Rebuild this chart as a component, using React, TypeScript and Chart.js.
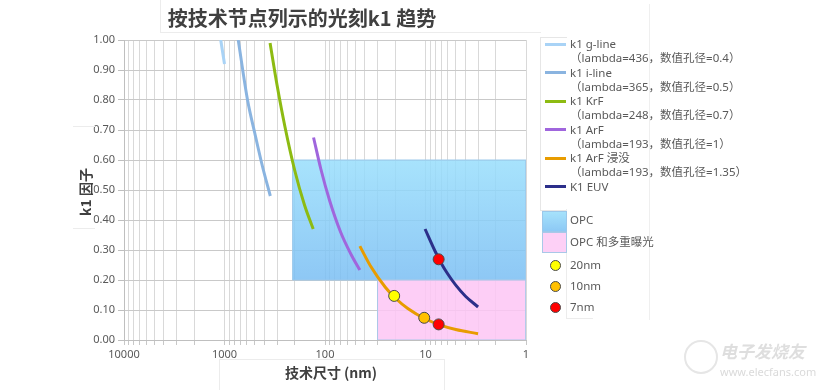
import React, { useEffect, useRef } from "react";
import { Chart, registerables } from "chart.js";
Chart.register(...registerables);

// ---- data (feature size in nm, k1 factor) ----
const gLineX = [1090, 1000];
const gLineK1 = [1.0, 0.92];
const iLineX = [730, 590, 500, 420, 350];
const iLineK1 = [1.0, 0.8, 0.69, 0.58, 0.48];
const krfX = [352, 300, 250, 200, 160, 131];
const krfK1 = [0.99, 0.85, 0.71, 0.565, 0.45, 0.37];
const arfX = [130, 110, 90, 70, 55, 45];
const arfK1 = [0.675, 0.57, 0.465, 0.36, 0.285, 0.233];
const arfImmX = [45, 35, 25, 20, 15, 10, 7, 5, 3];
const arfImmK1 = [0.313, 0.245, 0.175, 0.14, 0.105, 0.07, 0.049, 0.035, 0.021];
const euvX = [10.1, 8, 7, 6, 5, 4, 3];
const euvK1 = [0.37, 0.295, 0.257, 0.22, 0.183, 0.146, 0.11];

const opcX = [210, 1];
const opcK1 = [0.2, 0.6];
const opcMultiX = [30, 1];
const opcMultiK1 = [0, 0.2];

const node20X = [20.5];
const node20K1 = [0.147];
const node10X = [10.3];
const node10K1 = [0.074];
const node7X = [7.4, 7.4];
const node7K1 = [0.052, 0.269];

const xTickLabels = [10000, 1000, 100, 10, 1];

const seriesNames = [
  ["k1 g-line", "（lambda=436，数值孔径=0.4）"],
  ["k1 i-line", "（lambda=365，数值孔径=0.5）"],
  ["k1 KrF", "（lambda=248，数值孔径=0.7）"],
  ["k1 ArF", "（lambda=193，数值孔径=1）"],
  ["k1 ArF 浸没", "（lambda=193，数值孔径=1.35）"],
  ["K1 EUV"],
];
const seriesColors = ["#a9d3f6", "#8ab4e0", "#8dbb12", "#a066dd", "#e89c00", "#2c2f8a"];
const regionNames = ["OPC", "OPC 和多重曝光"];
const nodeNames = ["20nm", "10nm", "7nm"];
const nodeColors = ["#ffff00", "#ffc000", "#ff0000"];

const FONT = "'Noto Sans', 'Noto Sans CJK SC', sans-serif";
const CJK = "'Noto Sans CJK SC', 'Noto Sans', sans-serif";

const pts = (xs: number[], ys: number[]) => xs.map((x, i) => ({ x, y: ys[i] }));
const rect = (xs: number[], ys: number[]) => [
  { x: xs[0], y: ys[0] },
  { x: xs[0], y: ys[1] },
  { x: xs[1], y: ys[1] },
  { x: xs[1], y: ys[0] },
  { x: xs[0], y: ys[0] },
];

function buildTicks() {
  const t: number[] = [];
  for (let e = 0; e < 4; e++) for (let s = 1; s < 10; s++) t.push(s * Math.pow(10, e));
  t.push(10000);
  return t;
}

export default function App() {
  const ref = useRef<HTMLCanvasElement>(null);
  useEffect(() => {
    if (!ref.current) return;
    const curve = (data: any, color: string) => ({
      data,
      borderColor: color,
      backgroundColor: color,
      borderWidth: 3,
      pointRadius: 0,
      cubicInterpolationMode: "monotone",
      fill: false,
      order: 2,
    });
    const marker = (data: any, color: string) => ({
      data,
      showLine: false,
      pointRadius: 5.5,
      pointBackgroundColor: color,
      pointBorderColor: "#4a4a4a",
      pointBorderWidth: 1,
      borderColor: color,
      backgroundColor: color,
      order: 1,
    });
    const chart = new Chart(ref.current, {
      type: "line",
      data: {
        datasets: [
          {
            data: rect(opcX, opcK1),
            borderColor: "#9cc8ea",
            borderWidth: 1,
            pointRadius: 0,
            tension: 0,
            fill: "shape",
            order: 5,
            backgroundColor: (ctx: any) => {
              const c = ctx.chart;
              if (!c.chartArea) return "rgba(140,210,250,0.85)";
              const ys = c.scales.y;
              const g = c.ctx.createLinearGradient(0, ys.getPixelForValue(0.6), 0, ys.getPixelForValue(0.2));
              g.addColorStop(0, "rgba(152,222,252,0.85)");
              g.addColorStop(1, "rgba(122,190,243,0.85)");
              return g;
            },
          } as any,
          {
            data: rect(opcMultiX, opcMultiK1),
            borderColor: "#a9c8e8",
            borderWidth: 1,
            pointRadius: 0,
            tension: 0,
            fill: "shape",
            order: 4,
            backgroundColor: "rgba(253,198,245,0.85)",
          } as any,
          curve(pts(gLineX, gLineK1), seriesColors[0]),
          curve(pts(iLineX, iLineK1), seriesColors[1]),
          curve(pts(krfX, krfK1), seriesColors[2]),
          curve(pts(arfX, arfK1), seriesColors[3]),
          curve(pts(arfImmX, arfImmK1), seriesColors[4]),
          curve(pts(euvX, euvK1), seriesColors[5]),
          marker(pts(node20X, node20K1), nodeColors[0]),
          marker(pts(node10X, node10K1), nodeColors[1]),
          marker(pts(node7X, node7K1), nodeColors[2]),
        ] as any,
      },
      options: {
        animation: false,
        responsive: false,
        events: [],
        layout: { padding: { left: 0, top: 40, right: 304, bottom: 0 } },
        plugins: { legend: { display: false }, tooltip: { enabled: false }, title: { display: false } },
        scales: {
          x: {
            type: "logarithmic",
            reverse: true,
            min: 1,
            max: 10000,
            afterBuildTicks: (s: any) => {
              s.ticks = buildTicks().map((v) => ({ value: v }));
            },
            afterFit: (s: any) => {
              s.height = 50;
              s.paddingLeft = 0;
              s.paddingRight = 0;
            },
            grid: { color: "#d9d9d9", tickLength: 5, tickColor: "#c8c8c8" },
            border: { color: "#bfbfbf" },
            ticks: {
              autoSkip: false,
              maxRotation: 0,
              padding: 3,
              color: "#595959",
              font: { family: FONT, size: 11 },
              callback: (v: any) => (xTickLabels.includes(Number(v)) ? String(v) : ""),
            },
          },
          y: {
            min: 0,
            max: 1,
            afterFit: (s: any) => {
              s.width = 124;
              s.paddingTop = 0;
              s.paddingBottom = 0;
            },
            grid: { color: "#c9c9c9", tickLength: 6, tickColor: "#bfbfbf" },
            border: { color: "#bfbfbf" },
            ticks: {
              stepSize: 0.1,
              padding: 3,
              color: "#595959",
              font: { family: FONT, size: 11 },
              callback: (v: any) => Number(v).toFixed(2),
            },
          },
        },
      } as any,
    });
    return () => chart.destroy();
  }, []);

  const lineTop = (i: number) => 44 + i * 14.25 - 7;
  let row = 0;
  const legendRows: any[] = [];
  seriesNames.forEach((lines, si) => {
    lines.forEach((t, li) => {
      const top = lineTop(row);
      if (li === 0) {
        legendRows.push(
          <div key={"sw" + si} style={{ position: "absolute", left: 545, top: top + 5.5, width: 21, height: 3, background: seriesColors[si] }} />
        );
      }
      legendRows.push(
        <div key={"t" + si + "-" + li} style={{ position: "absolute", left: 570, top, height: 14, lineHeight: "14px", whiteSpace: "nowrap", fontSize: 11.5, color: "#595959", fontFamily: FONT }}>
          {t}
        </div>
      );
      row++;
    });
  });

  const txt = (s: any): any => ({ position: "absolute", whiteSpace: "nowrap", color: "#595959", fontFamily: FONT, fontSize: 11.5, lineHeight: "14px", ...s });

  return (
    <div style={{ position: "fixed", left: 0, top: 0, width: 830, height: 390, background: "#fff", overflow: "hidden" }}>
      <canvas ref={ref} width={830} height={390} style={{ position: "absolute", left: 0, top: 0, width: 830, height: 390 }} />
      {/* title */}
      <div style={{ position: "absolute", left: 160, top: 0, width: 380, height: 32, borderLeft: "1px solid #ececec", borderBottom: "1px solid #ececec" }} />
      <div style={{ position: "absolute", left: 302, top: 7, transform: "translateX(-50%)", whiteSpace: "nowrap", fontFamily: CJK, fontWeight: 700, fontSize: 20, lineHeight: "21px", color: "#404040" }}>
        按技术节点列示的光刻k1 趋势
      </div>
      {/* y title */}
      <div style={{ position: "absolute", left: 73, top: 126, width: 22, height: 101, borderTop: "1px solid #ececec", borderBottom: "1px solid #ececec" }} />
      <div style={{ position: "absolute", left: 85, top: 192, transform: "translate(-50%,-50%) rotate(-90deg)", whiteSpace: "nowrap", fontFamily: CJK, fontWeight: 700, fontSize: 14, lineHeight: "16px", color: "#404040" }}>
        k1 因子
      </div>
      {/* x title */}
      <div style={{ position: "absolute", left: 219, top: 359, width: 224, height: 40, borderLeft: "1px solid #ececec", borderTop: "1px solid #ececec", borderRight: "1px solid #ececec" }} />
      <div style={{ position: "absolute", left: 331, top: 371.5, transform: "translate(-50%,-50%)", whiteSpace: "nowrap", fontFamily: CJK, fontWeight: 700, fontSize: 14, lineHeight: "16px", color: "#404040" }}>
        技术尺寸 (nm)
      </div>
      {/* legend frames */}
      <div style={{ position: "absolute", left: 540, top: 37, width: 26, height: 172, border: "1px solid #e6e6e6", borderRight: "none" }} />
      <div style={{ position: "absolute", left: 566, top: 209, width: 26, height: 109, borderLeft: "1px solid #ececec", borderBottom: "1px solid #ececec" }} />
      <div style={{ position: "absolute", left: 649, top: 4, width: 1, height: 316, background: "#efefef" }} />
      {legendRows}
      <div style={{ position: "absolute", left: 541.5, top: 210.5, width: 23, height: 19, border: "1px solid #9cc8ea", background: "linear-gradient(#a6e2fb, #8dc9f5)" }} />
      <div style={txt({ left: 570, top: 213 })}>{regionNames[0]}</div>
      <div style={{ position: "absolute", left: 541.5, top: 232, width: 23, height: 19, border: "1px solid #a9c8e8", background: "#fdd0f6" }} />
      <div style={txt({ left: 570, top: 234.7 })}>{regionNames[1]}</div>
      {nodeNames.map((n, i) => {
        const cy = [265, 285.5, 306.5][i];
        return (
          <React.Fragment key={n}>
            <div style={{ position: "absolute", left: 550, top: cy - 5, width: 9, height: 9, borderRadius: "50%", border: "1px solid #4a4a4a", background: nodeColors[i] }} />
            <div style={txt({ left: 570, top: cy - 7 })}>{n}</div>
          </React.Fragment>
        );
      })}
      {/* watermark */}
      <div style={{ position: "absolute", left: 684, top: 340, width: 30, height: 30, borderRadius: "50%", border: "2px solid #e6e6e6" }} />
      <div style={{ position: "absolute", left: 720, top: 341, whiteSpace: "nowrap", fontFamily: CJK, fontStyle: "italic", fontWeight: 700, fontSize: 17, lineHeight: "20px", color: "#dedede" }}>电子发烧友</div>
      <div style={{ position: "absolute", left: 720, top: 365, whiteSpace: "nowrap", fontFamily: FONT, fontSize: 11, lineHeight: "13px", color: "#dadada" }}>www.elecfans.com</div>
    </div>
  );
}
